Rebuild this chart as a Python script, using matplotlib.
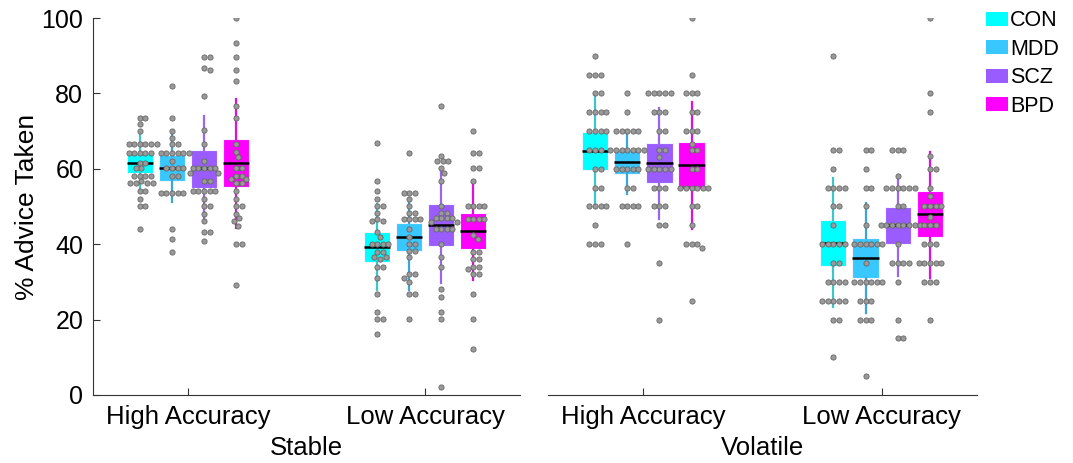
import matplotlib.pyplot as plt
import numpy as np
from matplotlib.patches import Patch

plt.rcParams['font.family'] = ['Liberation Sans', 'DejaVu Sans']

groups = ['CON', 'MDD', 'SCZ', 'BPD']
box_colors = ['#00FFFF', '#38C8FF', '#9B5CFF', '#FF00FF']
whisker_colors = ['#3CC6CC', '#3AA6D6', '#9A66EE', '#DD10DD']
accuracy_labels = ['High Accuracy', 'Low Accuracy']
conditions = ['Stable', 'Volatile']

# box stats per group: (whisker low, q1, median, q3, whisker high)
stable_high_stats = [(54.2, 58.8, 61.5, 64.3, 69.1), (51.1, 56.8, 60.1, 63.6, 69.1),
                     (46.2, 55.0, 60.1, 65.0, 74.0), (44.2, 55.3, 61.5, 67.8, 78.5)]
stable_low_stats = [(27.9, 35.2, 39.3, 43.3, 50.7), (27.9, 38.3, 41.9, 45.5, 52.0),
                    (29.8, 39.5, 45.2, 50.7, 59.9), (30.5, 38.8, 43.6, 48.4, 56.3)]
volatile_high_stats = [(50.1, 59.6, 64.8, 69.8, 79.3), (53.3, 58.6, 61.8, 65.1, 69.4),
                       (46.8, 56.3, 61.5, 66.8, 76.1), (44.1, 54.7, 61.1, 67.1, 77.7)]
volatile_low_stats = [(23.3, 34.3, 40.4, 46.4, 57.5), (21.7, 31.0, 36.3, 41.7, 50.8),
                      (31.6, 40.1, 45.0, 49.9, 58.4), (31.1, 41.8, 47.9, 54.0, 64.5)]

# individual subjects (% advice taken)
stable_high_points = [
    [73.6, 73.6, 72.0, 70.1, 66.7, 66.7, 66.7, 66.7, 66.7, 66.7, 64.1, 64.1, 64.1, 64.1, 64.1,
     61.5, 61.5, 60.1, 60.1, 58.2, 58.2, 58.2, 58.2, 56.8, 56.2, 56.2, 56.2, 56.2, 54.2, 54.2,
     52.0, 50.1, 50.1, 44.1],
    [82.0, 73.4, 70.1, 68.2, 66.7, 66.7, 64.1, 64.1, 64.1, 64.1, 64.1, 64.1, 62.1, 60.1, 60.1,
     60.1, 60.1, 58.2, 58.2, 53.5, 53.5, 53.5, 53.5, 53.5, 44.1, 41.5, 38.0],
    [89.7, 89.7, 86.8, 86.2, 79.4, 70.2, 66.7, 62.1, 60.1, 60.1, 60.1, 60.1, 60.1, 58.8, 58.8,
     56.8, 56.8, 54.2, 54.2, 54.2, 54.2, 54.2, 52.0, 50.1, 50.1, 48.1, 46.2, 43.3, 43.3, 40.9],
    [100.0, 93.5, 89.7, 86.2, 83.4, 76.7, 73.4, 66.7, 64.4, 63.0, 60.1, 60.1, 58.1, 58.1, 57.2,
     57.2, 56.2, 56.2, 54.1, 52.0, 50.1, 50.1, 48.1, 46.9, 46.1, 44.9, 40.1, 40.1, 29.2],
]
stable_low_points = [
    [66.8, 56.8, 54.1, 51.9, 50.1, 50.1, 48.4, 46.7, 46.2, 46.2, 43.3, 42.0, 40.0, 40.0, 40.0,
     40.0, 38.0, 38.0, 36.7, 36.7, 36.1, 34.0, 34.0, 31.1, 26.8, 22.1, 20.1, 20.1, 16.1],
    [64.1, 53.5, 53.5, 53.5, 52.0, 50.1, 48.4, 48.4, 46.7, 46.7, 46.7, 46.7, 43.9, 41.9, 40.0,
     40.0, 38.3, 38.3, 36.7, 32.1, 32.1, 31.1, 30.1, 26.8, 26.8, 20.1],
    [76.7, 63.5, 62.1, 62.1, 62.1, 60.1, 58.8, 56.8, 50.1, 48.4, 48.4, 46.9, 46.9, 46.9, 46.9,
     46.0, 46.0, 44.0, 44.0, 44.0, 44.0, 40.0, 36.7, 34.0, 28.0, 26.1, 22.1, 20.1, 2.0],
    [70.1, 64.1, 64.1, 60.1, 60.1, 56.8, 50.1, 50.1, 50.1, 50.1, 46.7, 46.7, 46.7, 46.7, 42.4,
     41.5, 38.0, 38.0, 36.2, 36.2, 34.0, 34.0, 33.4, 32.1, 32.1, 26.8, 20.1, 12.1],
]
volatile_high_points = [
    [90, 85, 85, 85, 80, 80, 75, 75, 75, 75, 70, 70, 70, 70, 65, 65, 65, 60, 60, 55, 55,
     50, 50, 50, 50, 45, 40, 40, 40],
    [80, 75, 70, 70, 70, 70, 70, 65, 65, 65, 65, 65, 65, 65, 60, 60, 60, 60, 60, 55, 55,
     50, 50, 50, 50, 40],
    [80, 80, 80, 80, 80, 75, 75, 75, 70, 70, 65, 65, 63, 60, 60, 60, 60, 60, 55, 55, 55,
     50, 50, 50, 45, 45, 35, 20],
    [100, 85, 80, 80, 80, 75, 75, 70, 70, 70, 66.7, 65, 65, 60, 60, 55, 55, 55, 55, 55, 55,
     50, 50, 45, 40, 40, 40, 39, 25],
]
volatile_low_points = [
    [90, 65, 65, 60, 55, 55, 55, 55, 50, 50, 45, 40, 40, 40, 40, 40, 35, 35, 30, 30, 30, 30,
     25, 25, 25, 25, 25, 20, 20, 10],
    [65, 65, 60, 55, 55, 50, 45, 40, 40, 40, 40, 40, 40, 35, 30, 30, 30, 30, 30, 30, 25, 25,
     25, 20, 20, 20, 5],
    [65, 65, 65, 58, 55, 55, 55, 55, 55, 55, 50, 50, 45, 45, 45, 45, 45, 45, 45, 45, 40, 35,
     35, 35, 35, 30, 20, 15, 15],
    [100, 80, 75, 63.3, 60, 60, 55, 52.7, 50, 50, 50, 50, 47.3, 45, 45, 45, 40, 40, 40, 35,
     35, 35, 35, 35, 30, 30, 30, 20],
]

panel_stats = [[stable_high_stats, stable_low_stats], [volatile_high_stats, volatile_low_stats]]
panel_points = [[stable_high_points, stable_low_points], [volatile_high_points, volatile_low_points]]

offsets = [-0.2025, -0.0675, 0.0675, 0.2025]
box_width = 0.11
XLIM = (0.6, 2.4)
PX_PER_X = 237.0   # pixels per x unit
PX_PER_Y = 3.77    # pixels per % unit


def swarm(vals, diam=5.5, step=0.8):
    # greedy beeswarm in pixel space, returns x offsets in data units
    vals = np.asarray(vals, float)
    placed = []
    offs = np.zeros(len(vals))
    for i in np.argsort(-vals):
        y = vals[i] * PX_PER_Y
        k = 0
        pos = None
        while pos is None:
            cands = [0.0] if k == 0 else [k * step, -k * step]
            for c in cands:
                if all((c - px) ** 2 + (y - py) ** 2 >= diam ** 2 for px, py in placed):
                    pos = c
                    break
            k += 1
        placed.append((pos, y))
        offs[i] = pos / PX_PER_X
    return offs


fig = plt.figure(figsize=(10.73, 4.63), dpi=100)
ax_l = fig.add_axes([0.0867, 0.1469, 0.398, 0.8142])
ax_r = fig.add_axes([0.5107, 0.1469, 0.3998, 0.8142])

for p, ax in enumerate([ax_l, ax_r]):
    for a in range(2):
        for g in range(4):
            lo, q1, med, q3, hi = panel_stats[p][a][g]
            x = a + 1 + offsets[g]
            ax.bxp([dict(whislo=lo, q1=q1, med=med, q3=q3, whishi=hi, fliers=[])],
                   positions=[x], widths=box_width, patch_artist=True, showcaps=False,
                   boxprops=dict(facecolor=box_colors[g], edgecolor='#f4f4ff', linewidth=0.8),
                   whiskerprops=dict(color=whisker_colors[g], linewidth=1.6),
                   medianprops=dict(color='black', linewidth=1.8), manage_ticks=False)
            pts = panel_points[p][a][g]
            ax.scatter(x + swarm(pts), pts, s=14, facecolor='#9a9a9a', edgecolor='#666666',
                       linewidths=0.6, zorder=5)
    ax.set_xlim(*XLIM)
    ax.set_ylim(0, 100)
    ax.set_xticks([1, 2])
    ax.set_xticklabels(accuracy_labels, fontsize=18.5)
    ax.set_xlabel(conditions[p], fontsize=18.5, labelpad=5)
    for s in ['top', 'right']:
        ax.spines[s].set_visible(False)
    ax.spines['bottom'].set_color('#333333')
    ax.spines['left'].set_color('#333333')
    ax.tick_params(direction='in', length=5, color='#333333', labelsize=18, pad=7)
    ax.tick_params(axis='x', labelsize=18.5)

ax_l.set_yticks([0, 20, 40, 60, 80, 100])
ax_l.set_ylabel('% Advice Taken', fontsize=19, labelpad=2)
ax_r.spines['left'].set_visible(False)
ax_r.set_yticks([])

handles = [Patch(facecolor=c, edgecolor='none') for c in box_colors]
fig.legend(handles, groups, loc='upper left', bbox_to_anchor=(0.907, 1.006), frameon=False,
           fontsize=15.5, handlelength=1.0, handleheight=0.63, handletextpad=0.1,
           labelspacing=0.35, borderaxespad=0.2)

fig.savefig('out.png', dpi=100)
